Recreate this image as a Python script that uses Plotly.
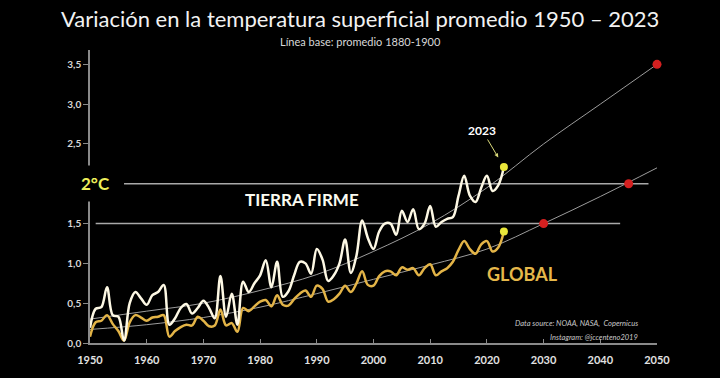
import plotly.graph_objects as go

# ---------------- data ----------------
years = list(range(1950, 2024))

land = [0.19, 0.43, 0.45, 0.70, 0.35, 0.33, 0.03, 0.50, 0.64, 0.56,
        0.48, 0.60, 0.64, 0.73, 0.23, 0.31, 0.44, 0.49, 0.37, 0.44,
        0.53, 0.44, 0.31, 0.84, 0.33, 0.62, 0.23, 0.77, 0.64, 0.75,
        0.85, 1.04, 0.70, 1.02, 0.58, 0.65, 0.85, 1.02, 1.00, 0.87,
        1.18, 1.05, 0.78, 0.85, 1.00, 1.30, 0.88, 1.10, 1.54, 1.32,
        1.18, 1.40, 1.50, 1.50, 1.36, 1.66, 1.52, 1.68, 1.43, 1.50,
        1.72, 1.46, 1.52, 1.56, 1.58, 1.85, 2.10, 1.85, 1.77, 1.95,
        2.10, 1.91, 1.98, 2.21]

global_ = [0.08, 0.26, 0.28, 0.35, 0.24, 0.15, 0.03, 0.26, 0.35, 0.32,
           0.28, 0.32, 0.33, 0.35, 0.08, 0.15, 0.20, 0.23, 0.22, 0.33,
           0.28, 0.21, 0.22, 0.42, 0.22, 0.25, 0.14, 0.44, 0.40, 0.46,
           0.52, 0.54, 0.46, 0.60, 0.48, 0.47, 0.55, 0.62, 0.66, 0.58,
           0.72, 0.68, 0.52, 0.55, 0.62, 0.72, 0.64, 0.75, 0.90, 0.73,
           0.72, 0.84, 0.90, 0.90, 0.85, 0.95, 0.92, 0.94, 0.85, 0.94,
           0.99, 0.85, 0.90, 0.94, 1.02, 1.17, 1.28, 1.18, 1.12, 1.24,
           1.28, 1.15, 1.20, 1.40]

trend_years = [1950, 1960, 1970, 1980, 1990, 2000, 2010, 2020, 2030, 2040, 2050]
land_trend = [0.30, 0.40, 0.50, 0.66, 0.86, 1.15, 1.50, 1.95, 2.50, 3.00, 3.50]
global_trend = [0.17, 0.23, 0.32, 0.45, 0.62, 0.80, 0.98, 1.18, 1.50, 1.84, 2.20]

proj_years = [2030, 2045, 2050]
proj_vals = [1.5, 2.0, 3.5]

thresholds = [1.5, 2.0]

x_ticks = list(range(1950, 2051, 10))
y_ticks = [0.0, 0.5, 1.0, 1.5, 2.5, 3.0, 3.5]
y_ticktext = ["0,0", "0,5", "1,0", "1,5", "2,5", "3,0", "3,5"]

# ---------------- layout constants ----------------
W, H = 720, 378
L, R, T, B = 90, 63, 50, 33
FONT = "Lato"
X0, X1 = 1950, 2050
Y0, Y1 = 0, 3.68

def paper_x(px):
    return (px - L) / (W - L - R)

def paper_y(py):
    return (H - B - py) / (H - T - B)

fig = go.Figure()

# threshold lines
thr_start = {1.5: 1951, 2.0: 1956}
thr_end = {1.5: 2043.5, 2.0: 2048.5}
for t in thresholds:
    fig.add_shape(type="line", xref="x", yref="y",
                  x0=thr_start[t], x1=thr_end[t], y0=t, y1=t,
                  line=dict(color="#a9a9a9", width=1.5), layer="below")

# trend lines
fig.add_trace(go.Scatter(x=trend_years, y=land_trend, mode="lines",
                         line=dict(color="#9c9c9c", width=1, shape="spline"),
                         hoverinfo="skip", showlegend=False))
fig.add_trace(go.Scatter(x=trend_years, y=global_trend, mode="lines",
                         line=dict(color="#9c9c9c", width=1, shape="spline"),
                         hoverinfo="skip", showlegend=False))

# data lines
fig.add_trace(go.Scatter(x=years, y=global_, mode="lines", name="Global",
                         line=dict(color="#e3b447", width=2.5, shape="spline", smoothing=1),
                         showlegend=False))
fig.add_trace(go.Scatter(x=years, y=land, mode="lines", name="Tierra firme",
                         line=dict(color="#fdf8e4", width=2.5, shape="spline", smoothing=1),
                         showlegend=False))

# end points 2023
fig.add_trace(go.Scatter(x=[years[-1], years[-1]], y=[land[-1], global_[-1]],
                         mode="markers", marker=dict(color="#e9e63a", size=8),
                         cliponaxis=False, showlegend=False))
# projection points
fig.add_trace(go.Scatter(x=proj_years, y=proj_vals, mode="markers",
                         marker=dict(color="#d42020", size=9),
                         cliponaxis=False, showlegend=False))

C = dict(xanchor="center", yanchor="middle")
ann = []
ann.append(dict(text="Variación en la temperatura superficial promedio 1950 – 2023",
                xref="paper", yref="paper", x=paper_x(360), y=paper_y(18),
                showarrow=False, font=dict(family=FONT, size=22, color="#f2f2f2"), **C))
ann.append(dict(text="Línea base: promedio 1880-1900",
                xref="paper", yref="paper", x=paper_x(360), y=paper_y(41),
                showarrow=False, font=dict(family=FONT, size=11, color="#d8d8d8"), **C))
ann.append(dict(text="<b>2°C</b>", xref="paper", yref="y", x=paper_x(95), y=2.0,
                showarrow=False, bgcolor="black", borderpad=7,
                font=dict(family=FONT, size=17, color="#eeee5a"), **C))
ann.append(dict(text="<b>TIERRA FIRME</b>", xref="x", yref="y", x=1987.4, y=1.80,
                showarrow=False, font=dict(family=FONT, size=17, color="#fbfbf0"), **C))
ann.append(dict(text="<b>GLOBAL</b>", xref="x", yref="y", x=2026.2, y=0.87,
                showarrow=False, font=dict(family=FONT, size=18, color="#e6b84a"), **C))
ann.append(dict(text="<b>2023</b>", xref="x", yref="y", x=2022.0, y=2.33,
                ax=-16, ay=-27, showarrow=True, arrowhead=2, arrowsize=0.8,
                arrowwidth=1, arrowcolor="#d9d97a",
                font=dict(family=FONT, size=12, color="#ffffff")))
ann.append(dict(text="<i>Data source: NOAA, NASA,  Copernicus</i>",
                xref="paper", yref="paper", x=paper_x(640), y=paper_y(325),
                xanchor="right", yanchor="middle", showarrow=False,
                font=dict(family=FONT, size=7.5, color="#c8c8c8")))
ann.append(dict(text="<i>Instagram: @jccenteno2019</i>",
                xref="paper", yref="paper", x=paper_x(640), y=paper_y(339),
                xanchor="right", yanchor="middle", showarrow=False,
                font=dict(family=FONT, size=7.5, color="#c8c8c8")))

fig.update_layout(
    width=W, height=H,
    margin=dict(l=L, r=R, t=T, b=B),
    paper_bgcolor="black", plot_bgcolor="black",
    annotations=ann,
    xaxis=dict(range=[X0, X1], tickvals=x_ticks, showgrid=False, zeroline=False,
               showline=True, linecolor="#8a8a8a", linewidth=1.5,
               ticks="inside", ticklen=4, tickcolor="#8a8a8a",
               ticklabelstandoff=6,
               tickfont=dict(family=FONT, size=11, color="#e2e2e2", weight="bold")),
    yaxis=dict(range=[Y0, Y1], tickvals=y_ticks, ticktext=y_ticktext,
               showgrid=False, zeroline=False,
               showline=True, linecolor="#8a8a8a", linewidth=1.5,
               ticks="outside", ticklen=5, tickcolor="#8a8a8a",
               tickfont=dict(family=FONT, size=10, color="#d8d8d8", weight="bold")),
)

fig.write_html("out.html",
               config={"displayModeBar": False},
               post_script="document.body.style.margin='0';document.body.style.background='black';")
